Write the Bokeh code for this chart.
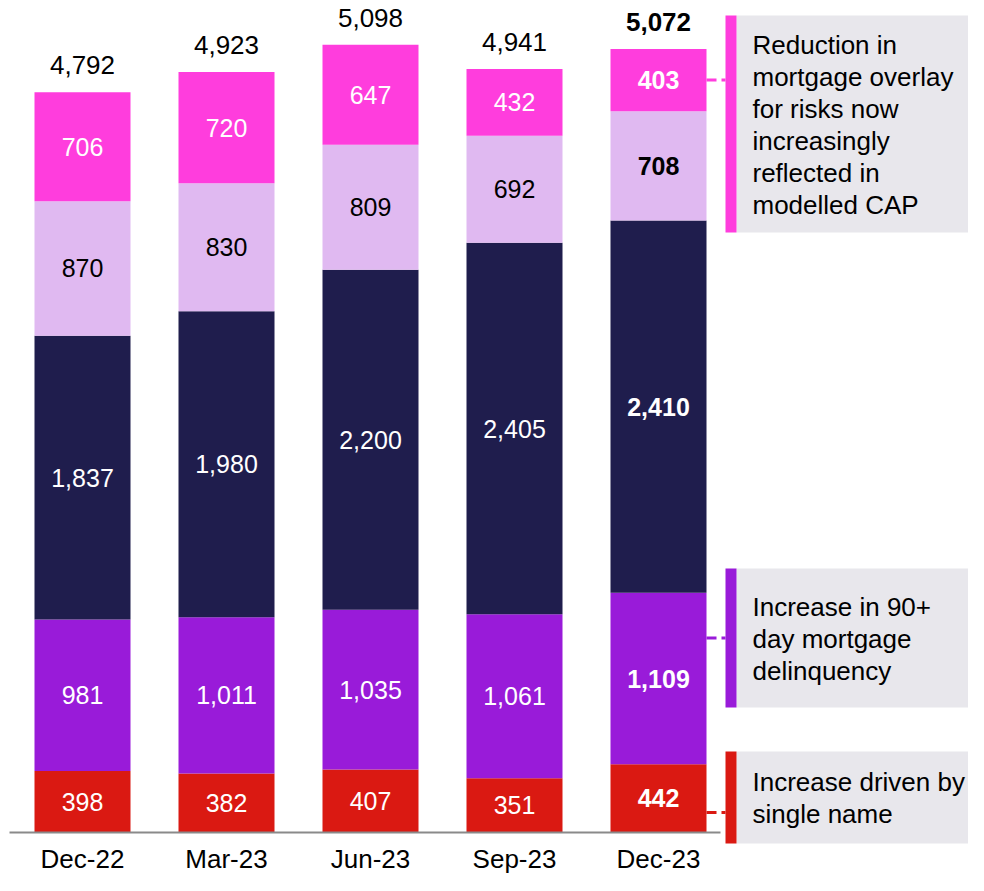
from bokeh.plotting import figure
from bokeh.models import ColumnDataSource, Range1d
from bokeh.core.properties import value
from bokeh.embed import file_html
from bokeh.resources import INLINE

# ---------------- data ----------------
categories = ["Dec-22", "Mar-23", "Jun-23", "Sep-23", "Dec-23"]
series_names = ["single_name", "delinquency", "modelled", "other_overlay", "mortgage_overlay"]
single_name = [398, 382, 407, 351, 442]
delinquency_90 = [981, 1011, 1035, 1061, 1109]
modelled = [1837, 1980, 2200, 2405, 2410]
other_overlay = [870, 830, 809, 692, 708]
mortgage_overlay = [706, 720, 647, 432, 403]
totals = [4792, 4923, 5098, 4941, 5072]

annotation_texts = [
    ["Reduction in", "mortgage overlay", "for risks now", "increasingly", "reflected in", "modelled CAP"],
    ["Increase in 90+", "day mortgage", "delinquency"],
    ["Increase driven by", "single name"],
]

# ---------------- styles / layout ----------------
colors = ["#DA1912", "#991BD9", "#1F1D4D", "#E0B9F1", "#FF3DDD"]
label_colors = ["white", "white", "white", "black", "white"]
box_grey = "#E8E7EC"
FONT = "Liberation Sans"

WIDTH, HEIGHT = 968, 875
PX_PER_UNIT = 0.1545      # vertical pixels per value unit
BASE_PX = 832             # figure-local pixel row of value 0
CENTER0_PX = 82           # figure-local x of first bar centre
STEP_PX = 144             # pixels between bar centres


def dx(px):
    return (px - CENTER0_PX) / STEP_PX


def dy(py):
    return (BASE_PX - py) / PX_PER_UNIT


p = figure(width=WIDTH, height=HEIGHT, output_backend="svg", toolbar_location=None,
           x_axis_type=None, y_axis_type=None, min_border=0,
           x_range=Range1d(dx(0), dx(WIDTH)), y_range=Range1d(dy(HEIGHT), dy(0)))
p.outline_line_color = None
p.grid.visible = False
p.background_fill_color = "white"
p.border_fill_color = "white"

xs = list(range(len(categories)))
data = dict(x=xs, single_name=single_name, delinquency=delinquency_90, modelled=modelled,
            other_overlay=other_overlay, mortgage_overlay=mortgage_overlay)
src = ColumnDataSource(data)
bar_w = 96 / STEP_PX
p.vbar_stack(series_names, x="x", width=bar_w, color=colors, line_color=None, source=src)

# in-bar labels
series_vals = [single_name, delinquency_90, modelled, other_overlay, mortgage_overlay]
lx, ly, lt, lc, ls = [], [], [], [], []
cum = [0] * len(categories)
for si, vals in enumerate(series_vals):
    for i, v in enumerate(vals):
        lx.append(i)
        ly.append(cum[i] + v / 2)
        lt.append(f"{v:,}")
        lc.append(label_colors[si])
        ls.append("bold" if i == len(categories) - 1 else "normal")
        cum[i] += v
p.text(x=lx, y=ly, text=lt, text_color=lc, text_font_style=ls,
       text_font=value(FONT), text_font_size="25px", text_align="center", text_baseline="middle")

# totals
tot_y = [t + 27 / PX_PER_UNIT for t in totals]
tot_style = ["bold" if i == len(categories) - 1 else "normal" for i in xs]
p.text(x=xs, y=tot_y, text=[f"{t:,}" for t in totals], text_font_style=tot_style,
       text_color="black", text_font=value(FONT), text_font_size="26px",
       text_align="center", text_baseline="middle")

# annotation column geometry
stripe_l, stripe_r, text_l, box_r = 725, 736, 752, WIDTH + 20

# axis line and category labels
p.segment(x0=[dx(9)], y0=[0], x1=[dx(stripe_l - 5)], y1=[0], line_color="#8A8A8A", line_width=2)
p.text(x=xs, y=[dy(858)] * len(xs), text=categories, text_color="black",
       text_font=value(FONT), text_font_size="26px", text_align="center", text_baseline="middle")

# annotation boxes
box_tops = [15, 568, 751]
box_bottoms = [232, 707, 843]
box_colors = [colors[4], colors[1], colors[0]]
p.quad(left=[dx(stripe_r)] * 3, right=[dx(box_r)] * 3, top=[dy(t) for t in box_tops],
       bottom=[dy(b) for b in box_bottoms], fill_color=box_grey, line_color=None)
p.quad(left=[dx(stripe_l)] * 3, right=[dx(stripe_r)] * 3, top=[dy(t) for t in box_tops],
       bottom=[dy(b) for b in box_bottoms], fill_color=box_colors, line_color=None)

# connectors
last = len(categories) - 1
conn_y = [sum(v[last] for v in series_vals[:4]) + mortgage_overlay[last] / 2,
          dy((box_tops[1] + box_bottoms[1]) / 2),
          dy(812)]
bar_right = dx(CENTER0_PX + last * STEP_PX + 48)
for cy, cc in zip(conn_y, box_colors):
    p.line(x=[bar_right, dx(stripe_l)], y=[cy, cy], line_color=cc, line_width=3, line_dash="10 5")

# annotation texts
tx, ty, tt = [], [], []
LINE_PX = 32
for lines, t, b in zip(annotation_texts, box_tops, box_bottoms):
    mid = (t + b) / 2 + 0.5
    n = len(lines)
    for j, s in enumerate(lines):
        tx.append(dx(text_l))
        ty.append(dy(mid + (j - (n - 1) / 2) * LINE_PX))
        tt.append(s)
p.text(x=tx, y=ty, text=tt, text_color="black", text_font=value(FONT), text_font_size="26px",
       text_align="left", text_baseline="middle")

open("out.html", "w").write(file_html(p, INLINE))
